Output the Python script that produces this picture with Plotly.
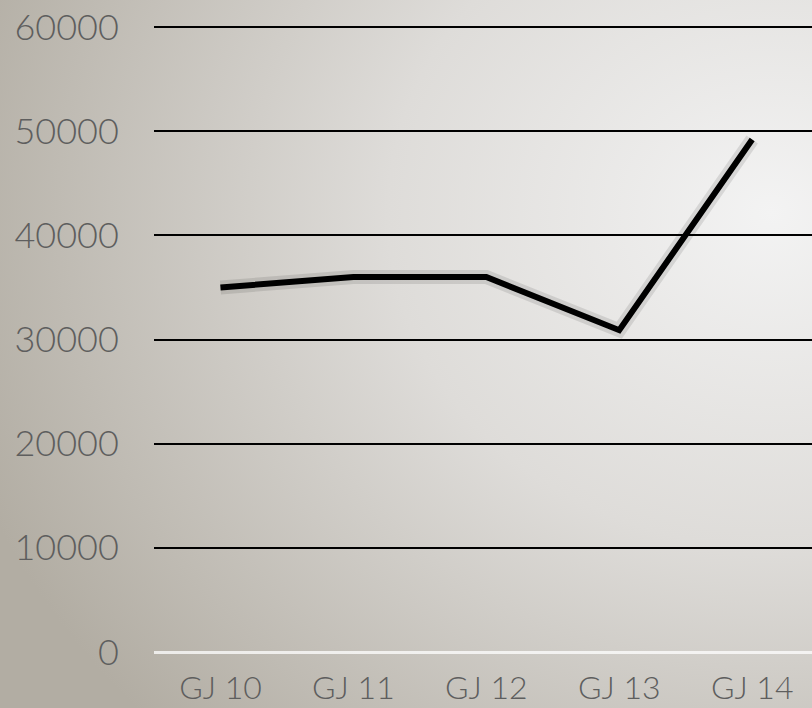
import plotly.graph_objects as go
import base64

categories = ["GJ 10", "GJ 11", "GJ 12", "GJ 13", "GJ 14"]
values = [35000, 36000, 36000, 30900, 49200]
y_ticks = [0, 10000, 20000, 30000, 40000, 50000, 60000]

svg = """<svg xmlns='http://www.w3.org/2000/svg' width='812' height='708' viewBox='0 0 812 708' preserveAspectRatio='none'>
<defs>
<radialGradient id='g' cx='0.95' cy='0.3' r='1.05' gradientUnits='objectBoundingBox'>
<stop offset='0' stop-color='#f3f3f3'/>
<stop offset='0.45' stop-color='#dedcd9'/>
<stop offset='1' stop-color='#b2ada3'/>
</radialGradient>
</defs>
<rect width='812' height='708' fill='url(#g)'/>
</svg>"""
bg_src = "data:image/svg+xml;base64," + base64.b64encode(svg.encode()).decode()

fig = go.Figure()
fig.add_trace(go.Scatter(
    x=categories, y=values, mode="lines",
    line=dict(color="rgba(0,0,0,0.10)", width=14),
    hoverinfo="skip", showlegend=False,
))
fig.add_trace(go.Scatter(
    x=categories, y=values, mode="lines",
    line=dict(color="#000000", width=6),
    showlegend=False,
))

font = "Lato, 'Open Sans', sans-serif"
plot_h = 627
fig.update_layout(
    width=812, height=708,
    margin=dict(l=154, r=0, t=25, b=56),
    paper_bgcolor="#d0cecb",
    plot_bgcolor="rgba(0,0,0,0)",
    images=[dict(source=bg_src, xref="paper", yref="paper", x=-154/658, y=1 + 25/plot_h,
                 sizex=812/658, sizey=708/plot_h, sizing="stretch", layer="below",
                 xanchor="left", yanchor="top")],
    xaxis=dict(
        type="category", range=[-0.5, 4.45], automargin=False,
        showgrid=False, zeroline=False, showline=False,
        ticks="outside", ticklen=8, tickcolor="rgba(0,0,0,0)",
        tickfont=dict(family=font, size=32, color="#5e5e5e", weight=300),
    ),
    yaxis=dict(
        range=[0, 60200], tickvals=y_ticks, automargin=False,
        ticktext=[str(v) for v in y_ticks],
        showgrid=True, gridcolor="#000000", gridwidth=2,
        zeroline=True, zerolinecolor="rgba(255,255,255,0.75)", zerolinewidth=3,
        showline=False,
        ticks="outside", ticklen=27, tickcolor="rgba(0,0,0,0)",
        tickfont=dict(family=font, size=36, color="#5e5e5e", weight=300),
    ),
)

fig.write_html("out.html", config={"displayModeBar": False},
               post_script="document.body.style.margin='0';document.body.style.overflow='hidden';")
